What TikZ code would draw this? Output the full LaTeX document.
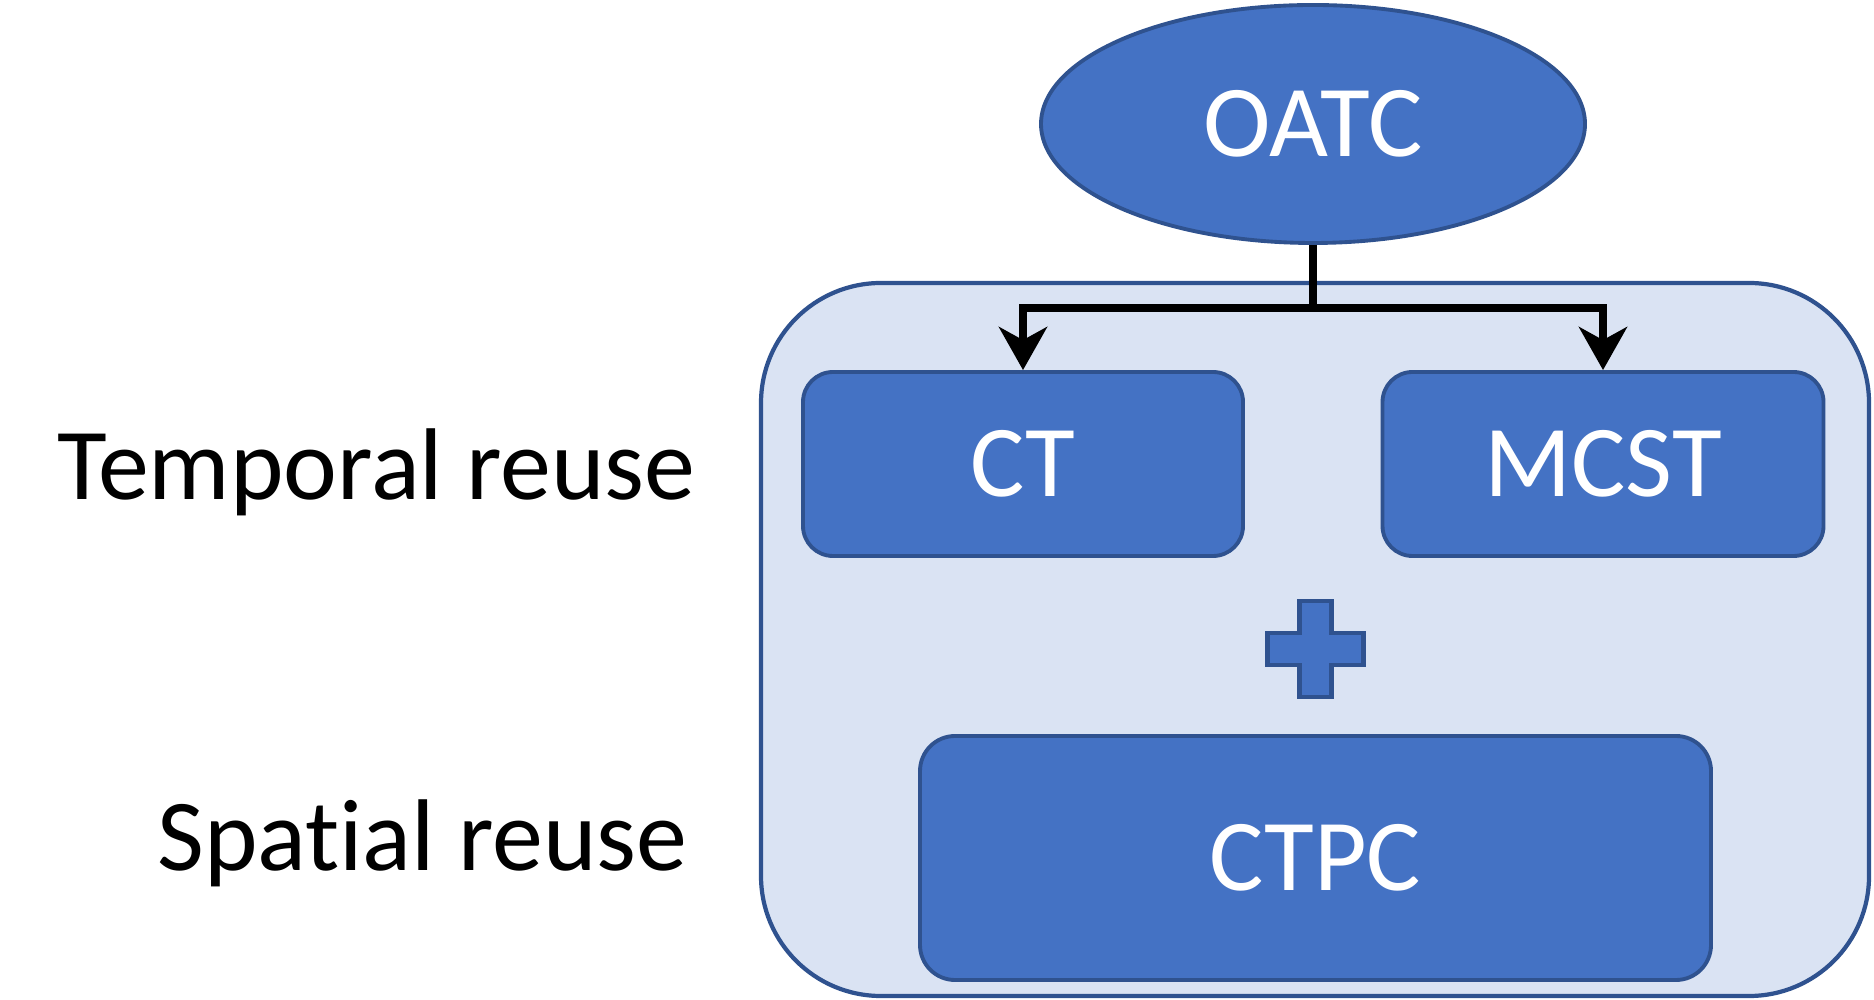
\documentclass[tikz,border=0pt]{standalone}
\usepackage{fontspec}
\setmainfont{Carlito}[Ligatures=NoCommon]
\usepackage{xcolor}
\definecolor{boxblue}{HTML}{4472C4}
\definecolor{edgeblue}{HTML}{2F528F}
\definecolor{paleblue}{HTML}{DAE3F3}
\usepackage{tikz}
\usetikzlibrary{
  positioning,
  arrows.meta,
  shapes.geometric
}

\begin{document}
\begin{tikzpicture}[
  >={Stealth[length=0.43cm, width=0.48cm, inset=0.13cm]},
  blk/.style={
    rectangle, rounded corners=0.3cm, draw=edgeblue, fill=boxblue,
    line width=1.1pt, text=white, font=\fontsize{29}{34}\selectfont,
    inner sep=0pt
  },
  side/.style={font=\fontsize{29}{34}\selectfont, text=black, inner sep=0pt},
  link/.style={->, line width=2.3pt, black}
]
\useasboundingbox (0,0) rectangle (18.74,9.99);

\draw[draw=edgeblue, fill=paleblue, line width=1.2pt, rounded corners=1.2cm]
  (7.61,0.03) rectangle (18.69,7.16);

\node[ellipse, draw=edgeblue, fill=boxblue, line width=1.1pt, text=white,
  font=\fontsize{29}{34}\selectfont, minimum width=5.44cm,
  minimum height=2.38cm, inner sep=0pt] (oatc) at (13.13,8.75) {OATC};

\node[blk, minimum width=4.40cm, minimum height=1.84cm] (ct) at (10.23,5.35) {CT};
\node[blk, minimum width=4.41cm, minimum height=1.84cm] (mcst) at (16.03,5.35) {MCST};
\node[blk, minimum width=7.91cm, minimum height=2.44cm, rounded corners=0.35cm]
  (ctpc) at (13.155,1.41) {CTPC};

\draw[draw=edgeblue, fill=boxblue, line width=1.2pt]
  (12.995,3.02) -- ++(0.32,0) -- ++(0,0.32) -- ++(0.32,0) -- ++(0,0.32)
  -- ++(-0.32,0) -- ++(0,0.32) -- ++(-0.32,0) -- ++(0,-0.32)
  -- ++(-0.32,0) -- ++(0,-0.32) -- ++(0.32,0) -- cycle;

\coordinate (fork) at (13.13,6.91);
\draw[link] (oatc.south) -- (fork) -| (ct.north);
\draw[link] (fork) -| (mcst.north);

\node[side, anchor=east] (temporal) at (6.96,5.27) {Temporal reuse};
\node[side, anchor=east] (spatial) at (6.88,1.56) {Spatial reuse};

\end{tikzpicture}
\end{document}
